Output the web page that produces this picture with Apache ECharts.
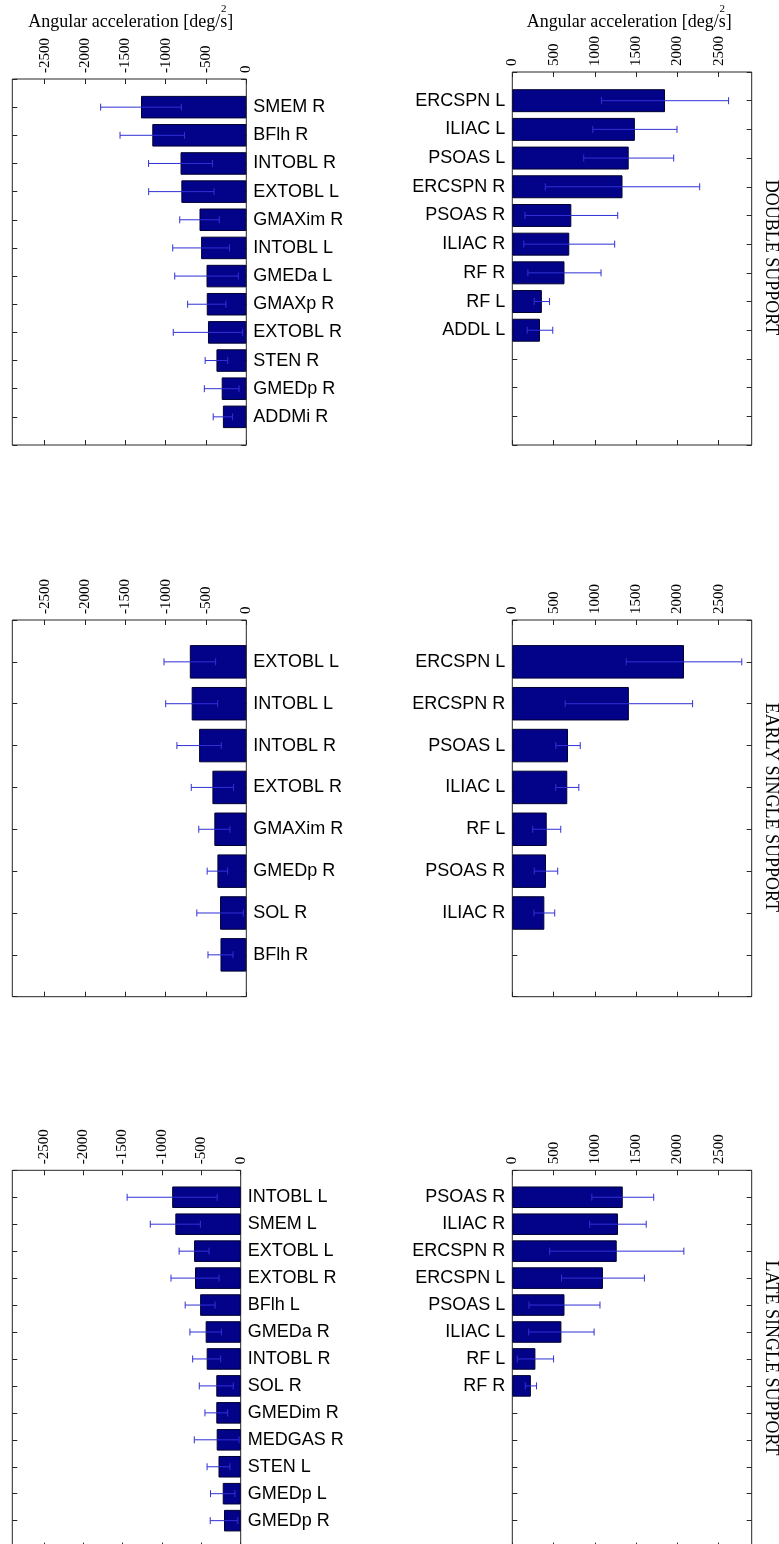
<!DOCTYPE html>
<html>
<head>
<meta charset="utf-8">
<script src="https://cdn.jsdelivr.net/npm/echarts@6/dist/echarts.min.js"></script>
<style>
  html, body { margin: 0; padding: 0; background: #fff; }
  #chart { width: 779px; height: 1544px; }
</style>
</head>
<body>
<div id="chart"></div>
<script>
// ---- Double support ----
const dsNegNames = ['SMEM R', 'BFlh R', 'INTOBL R', 'EXTOBL L', 'GMAXim R', 'INTOBL L', 'GMEDa L', 'GMAXp R', 'EXTOBL R', 'STEN R', 'GMEDp R', 'ADDMi R'];
const dsNegMean = [-1305, -1165, -815, -805, -580, -560, -493, -490, -475, -370, -305, -290];
const dsNegSd = [500, 400, 396, 405, 245, 352, 394, 237, 430, 140, 215, 120];
const dsPosNames = ['ERCSPN L', 'ILIAC L', 'PSOAS L', 'ERCSPN R', 'PSOAS R', 'ILIAC R', 'RF R', 'RF L', 'ADDL L'];
const dsPosMean = [1850, 1485, 1410, 1335, 715, 690, 632, 358, 335];
const dsPosSd = [770, 510, 545, 935, 562, 550, 443, 93, 155];

// ---- Early single support ----
const essNegNames = ['EXTOBL L', 'INTOBL L', 'INTOBL R', 'EXTOBL R', 'GMAXim R', 'GMEDp R', 'SOL R', 'BFlh R'];
const essNegMean = [-700, -677, -585, -420, -396, -358, -325, -320];
const essNegSd = [320, 322, 275, 262, 193, 127, 288, 155];
const essPosNames = ['ERCSPN L', 'ERCSPN R', 'PSOAS L', 'ILIAC L', 'RF L', 'PSOAS R', 'ILIAC R'];
const essPosMean = [2080, 1412, 675, 666, 417, 408, 388];
const essPosSd = [700, 772, 148, 140, 170, 142, 126];

// ---- Late single support ----
const lssNegNames = ['INTOBL L', 'SMEM L', 'EXTOBL L', 'EXTOBL R', 'BFlh L', 'GMEDa R', 'INTOBL R', 'SOL R', 'GMEDim R', 'MEDGAS R', 'STEN L', 'GMEDp L', 'GMEDp R'];
const lssNegMean = [-870, -830, -592, -580, -515, -445, -432, -310, -310, -305, -282, -228, -212];
const lssNegSd = [572, 318, 190, 305, 190, 200, 178, 216, 144, 284, 145, 155, 175];
const lssPosNames = ['PSOAS R', 'ILIAC R', 'ERCSPN R', 'ERCSPN L', 'PSOAS L', 'ILIAC L', 'RF L', 'RF R'];
const lssPosMean = [1338, 1280, 1265, 1098, 632, 595, 280, 225];
const lssPosSd = [375, 342, 813, 502, 430, 396, 220, 68];

// ---- Axis ticks and texts ----
const negTicks = [-2500, -2000, -1500, -1000, -500, 0];
const posTicks = [0, 500, 1000, 1500, 2000, 2500];
const negLimits = [-2900, 0];
const posLimits = [0, 2900];
const phaseTitles = ['DOUBLE SUPPORT', 'EARLY SINGLE SUPPORT', 'LATE SINGLE SUPPORT'];
const axisTitleMain = 'Angular acceleration [deg/s]';
const axisTitleHead = 'Angular acceleration [deg/';
const axisTitleUnit = 's';
const axisTitleSup = '2';

// ---- Styling ----
const BAR_FILL = '#03038a';
const BAR_EDGE = '#00002e';
const ERR_COLOR = '#3030d6';
const FRAME = '#262626';
const SERIF = '"Liberation Serif", "Times New Roman", serif';
const SANS = '"Liberation Sans", Arial, sans-serif';
const TICK_LEN = 5;

const phases = [
  { neg: [dsNegNames, dsNegMean, dsNegSd], pos: [dsPosNames, dsPosMean, dsPosSd], title: phaseTitles[0] },
  { neg: [essNegNames, essNegMean, essNegSd], pos: [essPosNames, essPosMean, essPosSd], title: phaseTitles[1] },
  { neg: [lssNegNames, lssNegMean, lssNegSd], pos: [lssPosNames, lssPosMean, lssPosSd], title: phaseTitles[2] }
];

// Plot boxes (pixel edges) for each phase: negative panel on the left, positive on the right
const boxes = [
  { neg: { l: 12.3, r: 246.3, t: 79, b: 445 },        pos: { l: 512.3, r: 751.7, t: 72, b: 445 } },
  { neg: { l: 12.3, r: 246.3, t: 620, b: 996.7 },     pos: { l: 512.3, r: 751.7, t: 620, b: 996.7 } },
  { neg: { l: 12.3, r: 240.7, t: 1170.3, b: 1547.6 }, pos: { l: 512.3, r: 751.7, t: 1170.3, b: 1547.6 } }
];

const grids = [], xAxes = [], yAxes = [], series = [];

function addPanel(box, set, rows, isNeg) {
  const [names, mean, sd] = set;
  const g = grids.length;
  grids.push({
    left: box.l, top: box.t, width: box.r - box.l, height: box.b - box.t,
    show: true, borderColor: FRAME, borderWidth: 1,
    containLabel: false, outerBoundsMode: 'none'
  });

  // category slots: one pad above, `rows` slots, one pad below
  const cats = [''];
  for (let i = 0; i < rows; i++) cats.push(i < names.length ? names[i] : '');
  cats.push('');

  const ticks = isNeg ? negTicks : posTicks;
  const lim = isNeg ? negLimits : posLimits;
  // axes stay on the box edges (not on the zero line); ticks point into the box
  const xBase = {
    gridIndex: g, type: 'value', min: lim[0], max: lim[1],
    axisLine: { show: false, onZero: false }, splitLine: { show: false },
    axisTick: { show: true, inside: true, length: TICK_LEN, lineStyle: { color: FRAME, width: 1 }, customValues: ticks }
  };
  const xi = xAxes.length;
  xAxes.push(Object.assign({}, xBase, {
    position: 'top',
    axisLabel: {
      show: true, rotate: -90, margin: 6, color: '#000',
      fontFamily: SERIF, fontSize: 15, customValues: ticks,
      formatter: v => String(v)
    }
  }));
  xAxes.push(Object.assign({}, xBase, { position: 'bottom', axisLabel: { show: false } }));

  const yBase = {
    gridIndex: g, type: 'category', data: cats, inverse: true, boundaryGap: false,
    axisLine: { show: false, onZero: false }, splitLine: { show: false },
    axisTick: { show: true, inside: true, length: TICK_LEN, interval: 0, lineStyle: { color: FRAME, width: 1 } }
  };
  const labelStyle = { show: true, interval: 0, margin: 7, color: '#000', fontFamily: SANS, fontSize: 18 };
  const yi = yAxes.length;
  yAxes.push(Object.assign({}, yBase, { position: 'left', axisLabel: isNeg ? { show: false } : labelStyle }));
  yAxes.push(Object.assign({}, yBase, { position: 'right', axisLabel: isNeg ? labelStyle : { show: false } }));

  const barData = cats.map((c, i) => (i >= 1 && i <= names.length) ? mean[i - 1] : '-');
  series.push({
    type: 'bar', xAxisIndex: xi, yAxisIndex: yi, data: barData,
    barWidth: '80%', z: 2, silent: true,
    itemStyle: { color: BAR_FILL, borderColor: BAR_EDGE, borderWidth: 1 }
  });

  // mean ± SD whiskers with end caps
  const errData = names.map((n, i) => [mean[i] - sd[i], mean[i] + sd[i], i + 1]);
  series.push({
    type: 'custom', xAxisIndex: xi, yAxisIndex: yi, data: errData, z: 5, silent: true,
    encode: { x: [0, 1], y: 2 },
    renderItem: (params, api) => {
      const lo = api.coord([api.value(0), api.value(2)]);
      const hi = api.coord([api.value(1), api.value(2)]);
      const y = lo[1], c = 3.5;
      const style = { stroke: ERR_COLOR, lineWidth: 1, fill: null };
      return {
        type: 'group',
        children: [
          { type: 'line', shape: { x1: lo[0], y1: y, x2: hi[0], y2: y }, style },
          { type: 'line', shape: { x1: lo[0], y1: y - c, x2: lo[0], y2: y + c }, style },
          { type: 'line', shape: { x1: hi[0], y1: y - c, x2: hi[0], y2: y + c }, style }
        ]
      };
    }
  });
}

phases.forEach((ph, k) => {
  const rows = Math.max(ph.neg[0].length, ph.pos[0].length);
  addPanel(boxes[k].neg, ph.neg, rows, true);
  addPanel(boxes[k].pos, ph.pos, rows, false);
});

// ---- Axis titles (with the exponent set above the unit) and phase labels ----
const measureCtx = document.createElement('canvas').getContext('2d');
function textWidth(str, size) {
  measureCtx.font = size + 'px "Liberation Serif"';
  return measureCtx.measureText(str).width;
}

const graphics = [];
const titleCenters = [130.8, 629.2];
const TITLE_SIZE = 18;
titleCenters.forEach(cx => {
  const wFull = textWidth(axisTitleMain, TITLE_SIZE);
  const wHead = textWidth(axisTitleHead, TITLE_SIZE);
  const wUnit = textWidth(axisTitleUnit, TITLE_SIZE);
  const x0 = cx - wFull / 2;
  graphics.push({
    type: 'text', x: x0, y: 22, silent: true,
    style: { text: axisTitleMain, font: TITLE_SIZE + 'px ' + SERIF, fill: '#000', align: 'left', verticalAlign: 'middle' }
  });
  graphics.push({
    type: 'text', x: x0 + wHead + wUnit / 2, y: 9.5, silent: true,
    style: { text: axisTitleSup, font: '11px ' + SERIF, fill: '#000', align: 'center', verticalAlign: 'middle' }
  });
});

phases.forEach((ph, k) => {
  const b = boxes[k].pos;
  graphics.push({
    type: 'text', x: 771, y: (b.t + b.b) / 2 - 1, rotation: -Math.PI / 2, silent: true,
    style: { text: ph.title, font: '18px ' + SERIF, fill: '#000', align: 'center', verticalAlign: 'middle' }
  });
});

const chart = echarts.init(document.getElementById('chart'), null, { renderer: 'canvas' });
chart.setOption({
  animation: false,
  backgroundColor: '#fff',
  grid: grids,
  xAxis: xAxes,
  yAxis: yAxes,
  series: series,
  graphic: graphics
});
</script>
</body>
</html>
